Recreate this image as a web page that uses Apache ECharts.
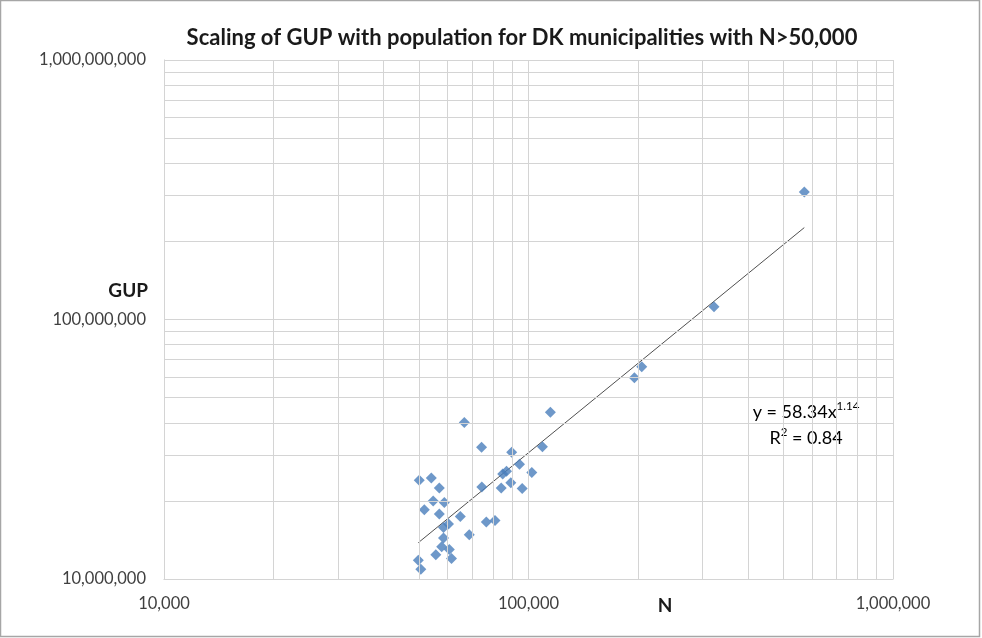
<!DOCTYPE html>
<html><head><meta charset="utf-8">
<script src="https://cdn.jsdelivr.net/npm/echarts@6/dist/echarts.min.js"></script>
<style>html,body{margin:0;padding:0;background:#fff}#c{width:982px;height:638px}</style>
</head><body><div id="c"></div>
<script>
// Population (N) of each municipality
const population = [114800, 66660, 74330, 89930, 109200, 94470, 84960, 87010, 102100, 50160,
  54120, 56930, 74460, 84170, 89420, 96100, 54770, 58750, 51780, 56930,
  65000, 58450, 60330, 76600, 80920, 68790, 58450, 57790, 60630, 55680,
  61480, 49850, 50640, 195200, 204500, 322800, 571000];
// GUP of each municipality
const gup = [43.9e6, 40.1e6, 32.2e6, 30.8e6, 32.3e6, 27.7e6, 25.4e6, 26.0e6, 25.7e6, 24.0e6,
  24.5e6, 22.4e6, 22.6e6, 22.4e6, 23.5e6, 22.3e6, 20.0e6, 19.7e6, 18.5e6, 17.8e6,
  17.4e6, 15.8e6, 16.3e6, 16.6e6, 16.8e6, 14.8e6, 14.4e6, 13.3e6, 13.0e6, 12.4e6,
  12.0e6, 11.8e6, 10.9e6, 59.7e6, 65.8e6, 112e6, 310e6];
// Power-law trendline end points
const trendN = [49850, 571000];
const trendGUP = [13.8e6, 226e6];
// Gridline positions
const xGridTicks = [10000, 20000, 30000, 40000, 50000, 60000, 70000, 80000, 90000,
  100000, 200000, 300000, 400000, 500000, 600000, 700000, 800000, 900000, 1000000];
const yGridTicks = [10e6, 20e6, 30e6, 40e6, 50e6, 60e6, 70e6, 80e6, 90e6,
  100e6, 200e6, 300e6, 400e6, 500e6, 600e6, 700e6, 800e6, 900e6, 1000e6];
const titleText = 'Scaling of GUP with population for DK municipalities with N>50,000';
const xName = 'N';
const yName = 'GUP';
const fitA = '58.34';
const fitB = '1.14';
const fitR2 = '0.84';

const FONT = 'Lato, "Open Sans", sans-serif';
const chart = echarts.init(document.getElementById('c'), null, {renderer: 'canvas'});
const fmt = v => Math.round(v).toLocaleString('en-US');

const gridLines = [];
xGridTicks.forEach(v => gridLines.push({xAxis: v}));
yGridTicks.forEach(v => gridLines.push({yAxis: v}));

chart.setOption({
  animation: false,
  backgroundColor: '#ffffff',
  grid: {left: 164, top: 60, right: 89, bottom: 59},
  xAxis: {
    type: 'log', logBase: 10, min: 10000, max: 1000000,
    axisLine: {show: true, lineStyle: {color: '#c8c8c8', width: 1}},
    axisTick: {show: false},
    splitLine: {show: false},
    axisLabel: {formatter: fmt, fontFamily: FONT, fontSize: 16.5, color: '#404040', margin: 16}
  },
  yAxis: {
    type: 'log', logBase: 10, min: 10000000, max: 1000000000,
    axisLine: {show: true, lineStyle: {color: '#c8c8c8', width: 1}},
    axisTick: {show: false},
    splitLine: {show: false},
    axisLabel: {formatter: fmt, fontFamily: FONT, fontSize: 16.5, color: '#404040', margin: 18}
  },
  series: [
    {
      type: 'scatter', data: [], z: 1, silent: true,
      markLine: {
        silent: true, symbol: ['none', 'none'], label: {show: false},
        lineStyle: {color: '#d4d4d4', width: 1, type: 'solid'},
        emphasis: {disabled: true},
        data: gridLines
      }
    },
    {
      type: 'line', z: 2, silent: true, symbol: 'none',
      lineStyle: {color: '#505050', width: 1},
      data: trendN.map((n, i) => [n, trendGUP[i]])
    },
    {
      type: 'scatter', z: 3, symbol: 'diamond', symbolSize: 11,
      itemStyle: {color: '#4a7ebb'},
      data: population.map((n, i) => [n, gup[i]])
    }
  ],
  graphic: [
    {type: 'rect', silent: true, shape: {x: 0.5, y: 0.5, width: 979, height: 636},
     style: {fill: 'none', stroke: '#a6a6a6', lineWidth: 1.5}},
    {type: 'text', x: 522, y: 38, style: {text: titleText, align: 'center', verticalAlign: 'middle',
      font: 'bold 22px ' + FONT, fill: '#1a1a1a'}},
    {type: 'text', x: 148, y: 291, style: {text: yName, align: 'right', verticalAlign: 'middle',
      font: 'bold 19px ' + FONT, fill: '#1a1a1a'}},
    {type: 'text', x: 665, y: 606, style: {text: xName, align: 'center', verticalAlign: 'middle',
      font: 'bold 19px ' + FONT, fill: '#1a1a1a'}},
    {type: 'text', x: 806, y: 425, style: {
      text: '{a|y = ' + fitA + 'x}{s|' + fitB + '}\n{a|R}{s|2}{a| = ' + fitR2 + '}',
      align: 'center', verticalAlign: 'middle',
      rich: {
        a: {fontFamily: FONT, fontSize: 18, lineHeight: 26, color: '#404040'},
        s: {fontFamily: FONT, fontSize: 11.5, lineHeight: 26, color: '#404040', padding: [0, 0, 12, 0]}
      }
    }}
  ]
});
</script></body></html>
